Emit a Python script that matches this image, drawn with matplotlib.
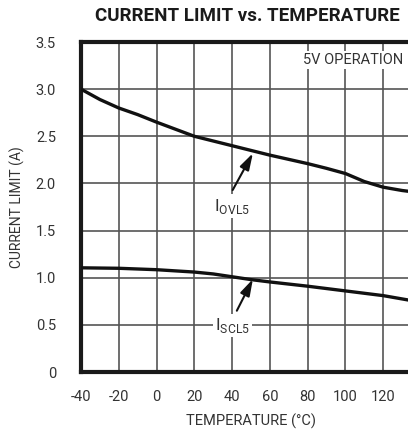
import matplotlib
matplotlib.use("Agg")
import matplotlib.pyplot as plt

plt.rcParams['font.family'] = ['Roboto', 'DejaVu Sans']
plt.rcParams['mathtext.fontset'] = 'custom'
plt.rcParams['mathtext.rm'] = 'Roboto'

# data
temp_ovl = [-40, -30, -20, -10, 0, 10, 20, 30, 40, 50, 60, 70, 80, 90, 100, 110, 120, 130, 140]
i_ovl5 = [3.00, 2.89, 2.80, 2.73, 2.65, 2.575, 2.50, 2.45, 2.40, 2.35, 2.30, 2.255, 2.21, 2.16, 2.105,
          2.02, 1.96, 1.925, 1.90]

temp_scl = [-40, -20, 0, 20, 30, 40, 50, 60, 80, 100, 120, 140]
i_scl5 = [1.105, 1.10, 1.085, 1.06, 1.04, 1.01, 0.98, 0.955, 0.91, 0.86, 0.81, 0.74]

x_ticks = [-40, -20, 0, 20, 40, 60, 80, 100, 120]
y_ticks = [0, 0.5, 1.0, 1.5, 2.0, 2.5, 3.0, 3.5]
y_ticklabels = ["0", "0.5", "1.0", "1.5", "2.0", "2.5", "3.0", "3.5"]

txt = "#333333"
grid = "#555555"

fig = plt.figure(figsize=(4.08, 4.36), dpi=100)
ax = fig.add_axes([81 / 408, 64 / 436, 340 / 408, 330 / 436])

ax.plot(temp_ovl, i_ovl5, color="#111111", lw=2.4, solid_joinstyle="round", zorder=3)
ax.plot(temp_scl, i_scl5, color="#111111", lw=2.4, solid_joinstyle="round", zorder=3)

ax.set_xlim(-40, 140)
ax.set_ylim(0, 3.5)
ax.set_xticks(x_ticks + [140])
ax.set_xticklabels([str(t) for t in x_ticks] + [""])
ax.set_yticks(y_ticks)
ax.set_yticklabels(y_ticklabels)
ax.tick_params(length=0, labelsize=10.5, labelcolor=txt)
ax.tick_params(axis="x", pad=13)
ax.tick_params(axis="y", pad=18)
ax.grid(True, color=grid, lw=1.2)
ax.set_axisbelow(True)

for side in ["left", "bottom", "top", "right"]:
    ax.spines[side].set_color("#1a1a1a")
    ax.spines[side].set_linewidth(3)

ax.set_xlabel("TEMPERATURE (°C)", fontsize=10.5, color=txt, labelpad=7)
ax.set_ylabel("CURRENT LIMIT (A)", fontsize=10, color=txt, labelpad=8)
fig.text(247 / 408, 1 - 16 / 436, "CURRENT LIMIT vs. TEMPERATURE",
         ha="center", va="center", fontsize=13.5, fontweight="bold", color="#1a1a1a")

box = dict(facecolor="white", edgecolor="none", pad=1.5)
ax.text(104, 3.31, "5V OPERATION", ha="center", va="center", fontsize=10.5,
        color=txt, bbox=box, zorder=2)
ax.text(40, 1.76, r"I$_{\mathrm{OVL5}}$", ha="center", va="center", fontsize=12.5,
        color=txt, bbox=box, zorder=2)
ax.text(40, 0.49, r"I$_{\mathrm{SCL5}}$", ha="center", va="center", fontsize=12.5,
        color=txt, bbox=box, zorder=2)

arrow = dict(arrowstyle="-|>,head_length=1.0,head_width=0.3", color="#111111", lw=1.5,
             shrinkA=0, shrinkB=0)
ax.annotate("", xy=(51, 2.32), xytext=(40.3, 1.93), arrowprops=arrow, zorder=4)
ax.annotate("", xy=(51, 0.985), xytext=(42.5, 0.65), arrowprops=arrow, zorder=4)

fig.savefig("out.png", dpi=100)
